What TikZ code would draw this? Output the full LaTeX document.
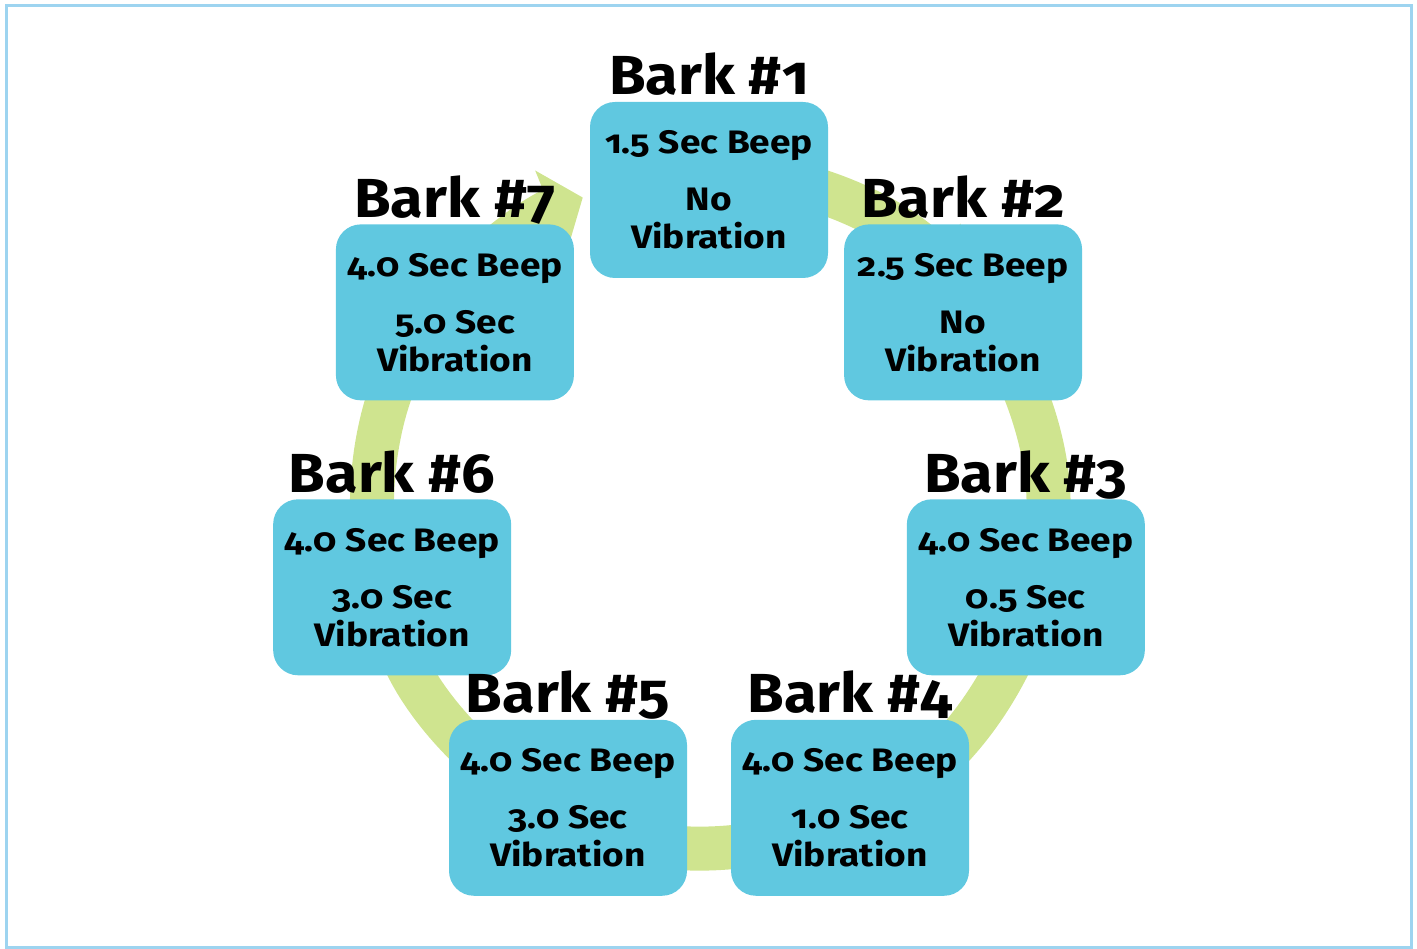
\documentclass[tikz,border=0pt]{standalone}
\usepackage{fontspec}
\setmainfont{Fira Sans}[Numbers=OldStyle, FakeStretch=1.08]
\newfontfamily\stagefont{Fira Sans}[Numbers=OldStyle, FakeStretch=1.14]
\usetikzlibrary{arrows.meta,calc}
\definecolor{boxblue}{RGB}{96,200,224}
\definecolor{flowgreen}{RGB}{207,228,143}
\definecolor{frameblue}{RGB}{157,212,240}
\tikzset{
  stagebox/.style={draw=none, fill=boxblue, rounded corners=25pt,
    minimum width=238pt, minimum height=176pt, inner sep=0pt, align=center,
    font=\stagefont\fontsize{32.5}{38}\selectfont\bfseries},
  barklabel/.style={anchor=base, inner sep=0pt,
    font=\fontsize{55}{60}\selectfont\bfseries},
  flow/.style={draw=flowgreen, line width=44pt,
    -{Triangle[width=84pt,length=34pt]}},
}
\begin{document}
\begin{tikzpicture}[x=1pt,y=1pt]
\useasboundingbox (0,0) rectangle (1417,949);
% outer frame
\draw[frameblue, line width=3pt] (6,1.5) rectangle (1411.5,943);

% centres of the green ring and of the ring of boxes
\coordinate (hub) at (709,439);
\coordinate (ring) at (709,434);

% green cycle arrows (drawn first, under the boxes)
\foreach \k in {1,...,6} {
  \pgfmathsetmacro\a{90-(\k-1)*360/7}
  \pgfmathsetmacro\s{\a-5}
  \pgfmathsetmacro\e{\a-360/7+5}
  \draw[flow] ([shift={(\s:337)}]hub) arc[start angle=\s, end angle=\e, radius=337];
}
\draw[flow] ([shift={(136.4:337)}]hub) arc[start angle=136.4, end angle=112, radius=337];

% the seven stages
\node[stagebox] (b1) at ([shift={(90:325)}]ring) {1.5 Sec Beep\\[19pt]No\\Vibration};
\node[stagebox] (b2) at ([shift={(38.571:325)}]ring) {2.5 Sec Beep\\[19pt]No\\Vibration};
\node[stagebox] (b3) at ([shift={(-12.857:325)}]ring) {4.0 Sec Beep\\[19pt]0.5 Sec\\Vibration};
\node[stagebox] (b4) at ([shift={(-64.286:325)}]ring) {4.0 Sec Beep\\[19pt]1.0 Sec\\Vibration};
\node[stagebox] (b5) at ([shift={(-115.714:325)}]ring) {4.0 Sec Beep\\[19pt]3.0 Sec\\Vibration};
\node[stagebox] (b6) at ([shift={(-167.143:325)}]ring) {4.0 Sec Beep\\[19pt]3.0 Sec\\Vibration};
\node[stagebox] (b7) at ([shift={(141.429:325)}]ring) {4.0 Sec Beep\\[19pt]5.0 Sec\\Vibration};

% stage titles
\foreach \k in {1,...,7} {
  \node[barklabel] (l\k) at ([yshift=7pt]b\k.north) {Bark \#\k};
}
\end{tikzpicture}
\end{document}
